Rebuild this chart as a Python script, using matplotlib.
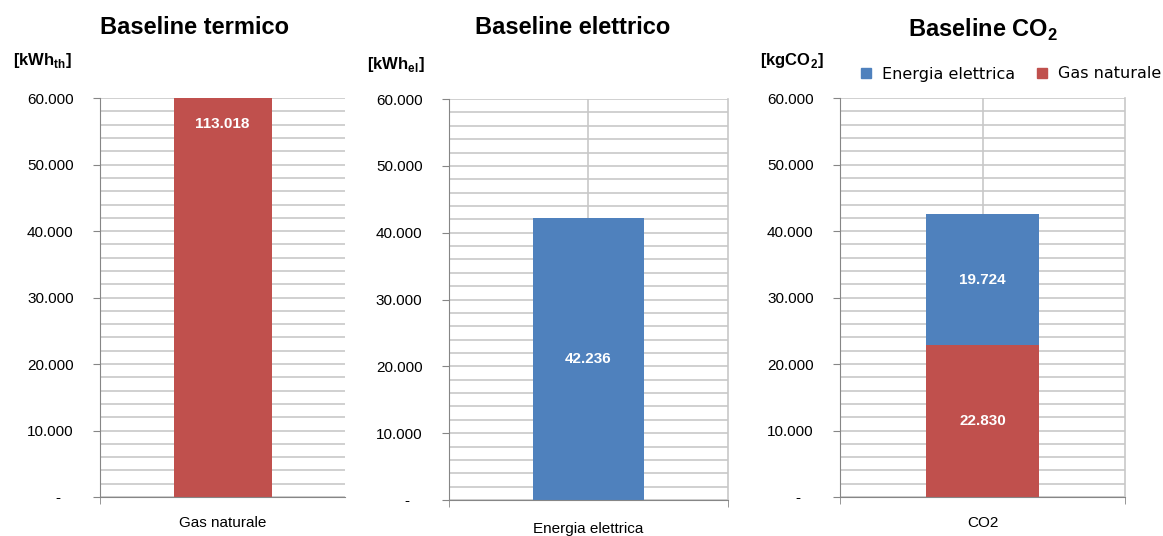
import matplotlib

matplotlib.use("Agg")
import matplotlib.pyplot as plt
from matplotlib.ticker import MultipleLocator, FuncFormatter
from matplotlib.patches import Patch

# ----------------- DATI -----------------
termico_cat = ["Gas naturale"]
termico_val = [113018]

elettrico_cat = ["Energia elettrica"]
elettrico_val = [42236]

co2_cat = ["CO2"]
co2_gas = [22830]
co2_el = [19724]

Y_MAX = 60000
RED = "#C0504D"
BLUE = "#4F81BD"
GRID = "#C8C8C8"
AXIS = "#868686"
# ----------------------------------------

plt.rcParams["font.family"] = ["Liberation Sans", "DejaVu Sans"]
plt.rcParams["mathtext.fontset"] = "custom"
plt.rcParams["mathtext.rm"] = "Liberation Sans"
plt.rcParams["mathtext.bf"] = "Liberation Sans:bold"


def fmt(v, _=None):
    if v == 0:
        return "-   "
    return f"{int(v):,}".replace(",", ".")


def style_axes(ax, vgrid=True):
    ax.set_xlim(-0.5, 0.5)
    ax.set_ylim(0, Y_MAX)
    ax.yaxis.set_major_locator(MultipleLocator(10000))
    ax.yaxis.set_minor_locator(MultipleLocator(2000))
    ax.yaxis.set_major_formatter(FuncFormatter(fmt))
    ax.grid(axis="y", which="both", color=GRID, linewidth=1.2, zorder=0)
    ax.set_axisbelow(True)
    ax.tick_params(axis="y", which="major", length=5, color=AXIS, labelsize=11, pad=14)
    ax.tick_params(axis="y", which="minor", length=0)
    ax.tick_params(axis="x", which="major", length=0, labelsize=11, pad=14)
    ax.tick_params(axis="x", which="minor", length=5, color=AXIS)
    ax.spines["top"].set_visible(False)
    ax.spines["left"].set_color(AXIS)
    ax.spines["bottom"].set_color(AXIS)
    if vgrid:
        ax.set_xticks([-0.5, 0.5], minor=True)
        ax.axvline(0, color=GRID, linewidth=1.2, zorder=0)
        ax.spines["right"].set_color(GRID)
        ax.spines["right"].set_linewidth(1.2)
    else:
        ax.set_xticks([-0.5], minor=True)
        ax.spines["right"].set_visible(False)


fig = plt.figure(figsize=(11.63, 5.36), dpi=100)

# --- termico ---
ax1 = fig.add_axes([0.086, 0.0728, 0.2107, 0.744])
style_axes(ax1, vgrid=False)
ax1.bar([0], termico_val, width=0.4, color=RED, zorder=2)
ax1.set_xticks([0], termico_cat)
for v in termico_val:
    ax1.text(0, min(v, Y_MAX) - 3900, fmt(v), ha="center", va="center",
             color="white", fontweight="bold", fontsize=11, zorder=3)
fig.text(195 / 1163, 1 - 28 / 536, "Baseline termico", ha="center", va="center",
         fontsize=17, fontweight="bold")
fig.text(42 / 1163, 1 - 60 / 536, r"[kWh$_{\mathbf{th}}$]", ha="center", va="center",
         fontsize=12, fontweight="bold")

# --- elettrico ---
ax2 = fig.add_axes([0.386, 0.0672, 0.240, 0.748])
style_axes(ax2)
ax2.bar([0], elettrico_val, width=0.4, color=BLUE, zorder=2)
ax2.set_xticks([0], elettrico_cat)
ax2.tick_params(axis="x", which="major", pad=16)
for v in elettrico_val:
    ax2.text(0, v / 2, fmt(v), ha="center", va="center",
             color="white", fontweight="bold", fontsize=11, zorder=3)
fig.text(573 / 1163, 1 - 27 / 536, "Baseline elettrico", ha="center", va="center",
         fontsize=17, fontweight="bold")
fig.text(396 / 1163, 1 - 65 / 536, r"[kWh$_{\mathbf{el}}$]", ha="center", va="center",
         fontsize=12, fontweight="bold")

# --- CO2 ---
ax3 = fig.add_axes([0.7223, 0.0728, 0.245, 0.744])
style_axes(ax3)
ax3.bar([0], co2_gas, width=0.4, color=RED, zorder=2)
ax3.bar([0], co2_el, bottom=co2_gas, width=0.4, color=BLUE, zorder=2)
ax3.set_xticks([0], co2_cat)
for g, e in zip(co2_gas, co2_el):
    ax3.text(0, g / 2, fmt(g), ha="center", va="center",
             color="white", fontweight="bold", fontsize=11, zorder=3)
    ax3.text(0, g + e / 2, fmt(e), ha="center", va="center",
             color="white", fontweight="bold", fontsize=11, zorder=3)
fig.text(983 / 1163, 1 - 30 / 536, r"Baseline CO$_\mathbf{2}$", ha="center", va="center",
         fontsize=17, fontweight="bold")
fig.text(792 / 1163, 1 - 60 / 536, r"[kgCO$_\mathbf{2}$]", ha="center", va="center",
         fontsize=12, fontweight="bold")

handles = [Patch(color=BLUE, label="Energia elettrica"), Patch(color=RED, label="Gas naturale")]
fig.legend(handles=handles, loc="center left", bbox_to_anchor=(853 / 1163, 1 - 74 / 536),
           ncol=2, frameon=False, prop={"family": "DejaVu Sans", "size": 11.5},
           handlelength=0.6, handleheight=0.6, handletextpad=0.7, columnspacing=1.4,
           borderpad=0)

fig.savefig("out.png", dpi=100)
